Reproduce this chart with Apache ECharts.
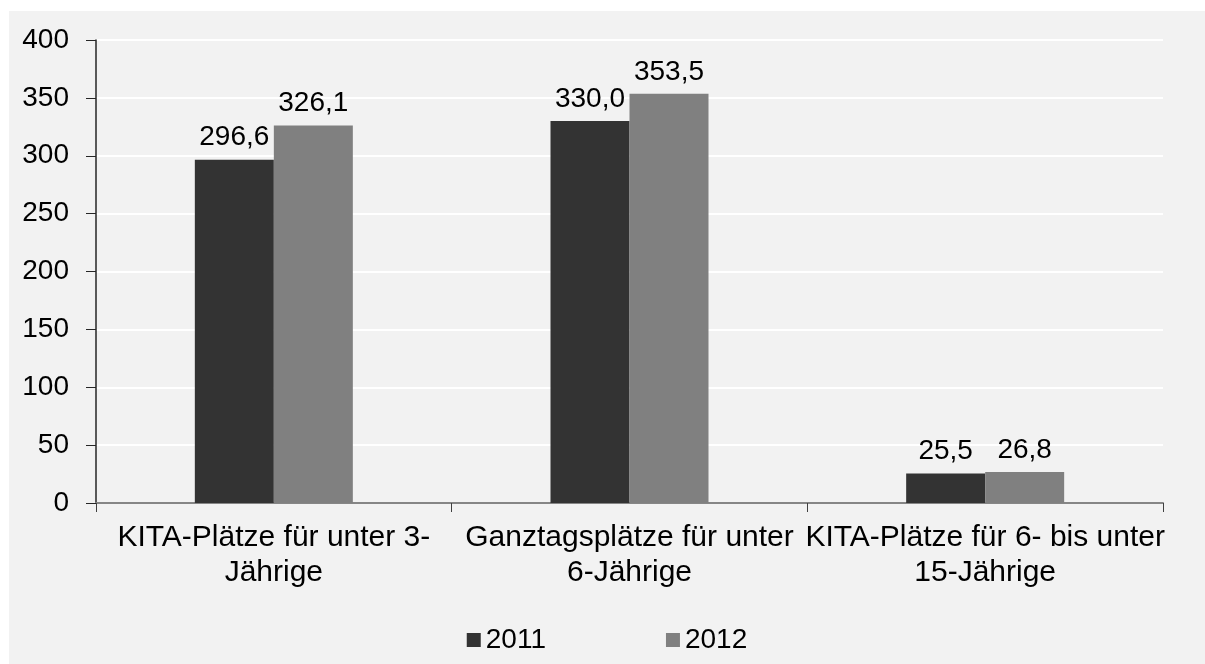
<!DOCTYPE html>
<html>
<head>
<meta charset="utf-8">
<script src="https://cdn.jsdelivr.net/npm/echarts@6/dist/echarts.min.js"></script>
<style>
  html, body { margin: 0; padding: 0; background: #ffffff; }
  #chart { position: absolute; left: 9px; top: 11px; width: 1196px; height: 653px; background: #f2f2f2; }
</style>
</head>
<body>
<div id="chart"></div>
<script>
const categories = [
  "KITA-Plätze für unter 3-\nJährige",
  "Ganztagsplätze für unter\n6-Jährige",
  "KITA-Plätze für 6- bis unter\n15-Jährige"
];
const values2011 = [296.6, 330.0, 25.5];
const values2012 = [326.1, 353.5, 26.8];
const seriesNames = ["2011", "2012"];

const font = "Liberation Sans, Arial, sans-serif";
const fmt = p => p.value.toFixed(1).replace(".", ",");

const myChart = echarts.init(document.getElementById("chart"));
myChart.setOption({
  animation: false,
  color: ["#333333", "#808080"],
  textStyle: { fontFamily: font },
  grid: { left: 87, right: 42, top: 29, bottom: 161 },
  legend: {
    data: seriesNames,
    top: 610,
    left: "center",
    itemWidth: 14,
    itemHeight: 14,
    itemGap: 120,
    icon: "rect",
    textStyle: { fontSize: 28, color: "#000", fontFamily: font }
  },
  xAxis: {
    type: "category",
    data: categories,
    axisLine: { show: true, lineStyle: { color: "#868686", width: 2 } },
    axisTick: { show: true, length: 9, alignWithLabel: false, lineStyle: { color: "#404040" } },
    axisLabel: {
      interval: 0,
      margin: 17,
      fontSize: 30,
      lineHeight: 35,
      color: "#000",
      fontFamily: font
    }
  },
  yAxis: {
    type: "value",
    min: 0,
    max: 400,
    interval: 50,
    axisLine: { show: true, lineStyle: { color: "#262626", width: 1.5 } },
    axisTick: { show: true, length: 10, lineStyle: { color: "#262626" } },
    splitLine: { show: true, lineStyle: { color: "#ffffff", width: 2 } },
    axisLabel: { margin: 27, fontSize: 28, color: "#000", fontFamily: font }
  },
  series: [
    {
      name: seriesNames[0],
      type: "bar",
      data: values2011,
      barWidth: 79,
      barGap: "0%",
      label: { show: true, position: "top", distance: 8, formatter: fmt, fontSize: 28, color: "#000", fontFamily: font }
    },
    {
      name: seriesNames[1],
      type: "bar",
      data: values2012,
      barWidth: 79,
      barGap: "0%",
      label: { show: true, position: "top", distance: 8, formatter: fmt, fontSize: 28, color: "#000", fontFamily: font }
    }
  ]
});
</script>
</body>
</html>
